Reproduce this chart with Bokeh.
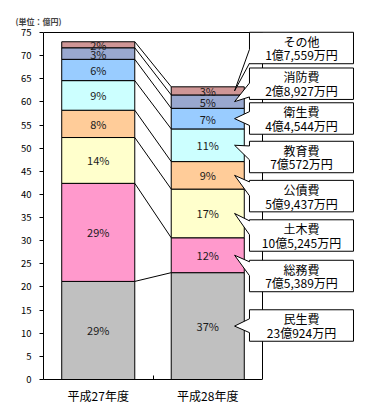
from bokeh.plotting import figure
from bokeh.models import Range1d, FixedTicker, ColumnDataSource
from bokeh.core.properties import value
from bokeh.embed import file_html
from bokeh.resources import INLINE

# ---- data ----
years = ["平成27年度", "平成28年度"]
items = ["民生費", "総務費", "土木費", "公債費", "教育費", "衛生費", "消防費", "その他"]
h27 = [21.2, 21.2, 9.9, 5.9, 6.4, 4.6, 2.5, 1.3]
h28 = [23.0924, 7.5389, 10.5245, 5.9437, 7.0572, 4.4544, 2.8927, 1.7559]
colors = ["#C0C0C0", "#FF99CC", "#FFFFCC", "#FFCC99", "#CCFFFF", "#99CCFF", "#99A8CF", "#CF9696"]
y_ticks = list(range(0, 80, 5))
unit_label = "(単位：億円)"

# ---- layout constants ----
PX_X = 109.5          # px per category
PX_Y = 347 / 75       # px per 億円
BAR_W = 0.667
FRAME_W, FRAME_H = 314, 351
callout_y = [11.67, 22.37, 31.12, 39.64, 48.09, 56.41, 63.93, 71.65]
BOX_X0, BOX_X1, BOX_HALF = 1.881, 2.831, 3.4
TIP_DX = 0.245
FONT = "Noto Sans CJK JP"

p = figure(frame_width=FRAME_W, frame_height=FRAME_H,
           x_range=Range1d(0, FRAME_W / PX_X), y_range=Range1d(0, FRAME_H / PX_Y),
           output_backend="svg", toolbar_location=None,
           min_border_left=43, min_border_right=5, min_border_top=28, min_border_bottom=27,
           title=unit_label)
p.outline_line_color = None
p.grid.visible = False
p.background_fill_color = "white"

p.title.text_font = FONT
p.title.text_font_size = "8px"
p.title.text_font_style = "bold"
p.title.align = "left"
p.title.offset = -28
p.title.standoff = 4

# x axis
xa = p.xaxis[0]
xa.ticker = FixedTicker(ticks=[0.5, 1.5], minor_ticks=[1.0])
xa.bounds = (0, 2)
xa.major_label_overrides = {0.5: years[0], 1.5: years[1]}
xa.major_tick_in = 0
xa.major_tick_out = 0
xa.minor_tick_in = 4
xa.minor_tick_out = 0
xa.major_label_standoff = 7
xa.major_label_text_font = FONT
xa.major_label_text_font_size = "12px"
xa.major_label_text_color = "black"
xa.axis_line_color = "black"

# y axis
ya = p.yaxis[0]
ya.ticker = FixedTicker(ticks=y_ticks)
ya.bounds = (0, 75)
ya.major_tick_in = 0
ya.major_tick_out = 4
ya.minor_tick_in = 0
ya.minor_tick_out = 0
ya.major_label_standoff = 8
ya.major_label_text_font = FONT
ya.major_label_text_font_size = "9.5px"
ya.major_label_text_color = "black"
ya.axis_line_color = "black"

# frame border (top and right)
p.segment(x0=[0, 2], y0=[75, 0], x1=[2, 2], y1=[75, 75], line_color="black", line_width=1)

# stacked bars
keys = [f"s{i}" for i in range(len(items))]
data = {"x": [0.5, 1.5]}
for k, a, b in zip(keys, h27, h28):
    data[k] = [a, b]
src = ColumnDataSource(data)
p.vbar_stack(keys, x="x", width=BAR_W, fill_color=colors, line_color="black",
             line_width=1, source=src)

# cumulative sums
def cums(vals):
    out = [0.0]
    for v in vals:
        out.append(out[-1] + v)
    return out

c27, c28 = cums(h27), cums(h28)

# series lines
p.segment(x0=[0.5 + BAR_W / 2] * len(items), y0=c27[1:],
          x1=[1.5 - BAR_W / 2] * len(items), y1=c28[1:],
          line_color="black", line_width=1)

# percent labels
lx, ly, lt = [], [], []
for xc, vals, c in ((0.5, h27, c27), (1.5, h28, c28)):
    tot = sum(vals)
    for i, v in enumerate(vals):
        lx.append(xc)
        ly.append(c[i] + v / 2)
        lt.append(f"{int(100 * v / tot + 0.5)}%")
p.text(x=lx, y=ly, text=lt, text_align="center", text_baseline="middle",
       text_font=value(FONT), text_font_size="11px", text_color="#1a1a1a")

# callouts
cxs, cys = [], []
tx, ty, tt = [], [], []
xc_box = (BOX_X0 + BOX_X1) / 2
for i, name in enumerate(items):
    tipx = 1.5 + TIP_DX
    tipy = c28[i] + h28[i] / 2
    cy = callout_y[i]
    shift = max(-1.8, min(1.8, 0.35 * (tipy - cy)))
    b_lo, b_hi = cy - 1.5 + shift, cy + 1.5 + shift
    cxs.append([BOX_X0, BOX_X1, BOX_X1, BOX_X0, BOX_X0, tipx, BOX_X0])
    cys.append([cy + BOX_HALF, cy + BOX_HALF, cy - BOX_HALF, cy - BOX_HALF, b_lo, tipy, b_hi])
    v = h28[i]
    oku = int(v)
    man = int(round((v - oku) * 10000))
    tx += [xc_box, xc_box]
    ty += [cy + 1.5, cy - 1.5]
    tt += [name, f"{oku}億{man:,}万円"]

p.patches(xs=cxs, ys=cys, fill_color="white", line_color="black", line_width=1)
p.text(x=tx, y=ty, text=tt, text_align="center", text_baseline="middle",
       text_font=value(FONT), text_font_size="12px", text_color="black")

open("out.html", "w").write(file_html(p, INLINE))
